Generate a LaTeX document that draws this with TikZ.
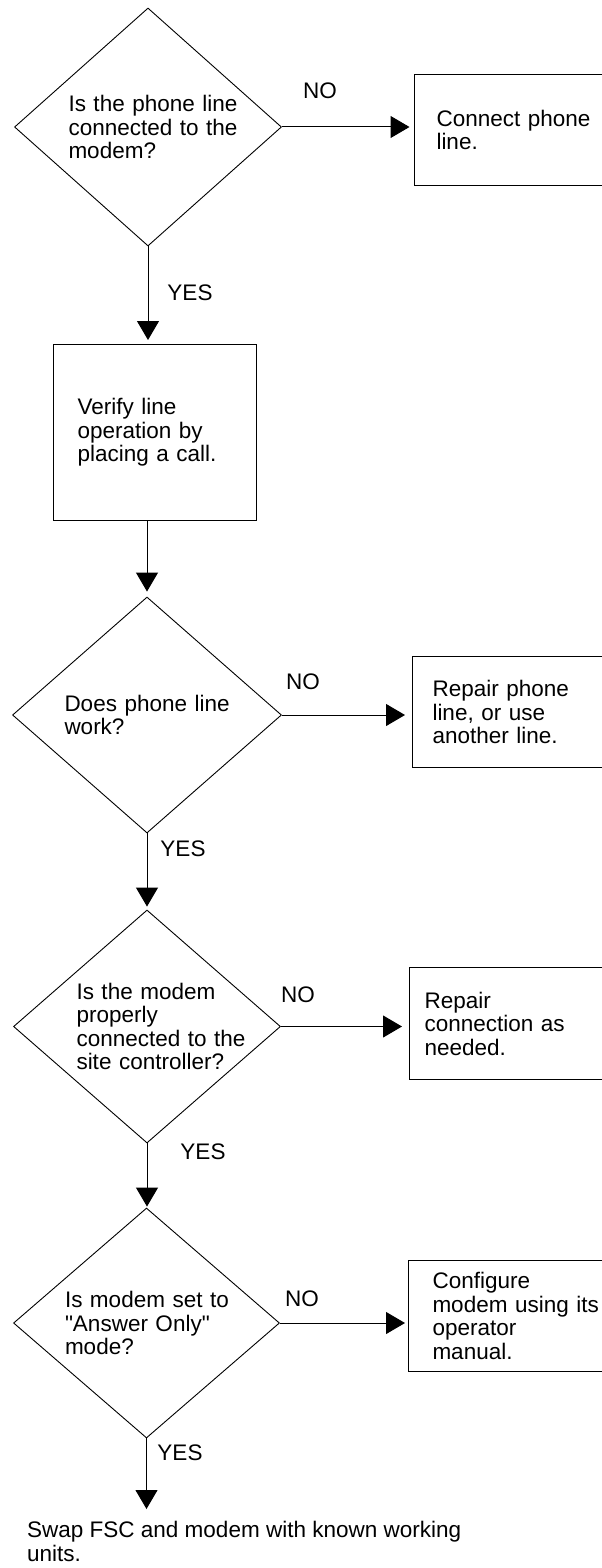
\documentclass[tikz,border=0pt]{standalone}
\usepackage{fontspec}
\setmainfont{Liberation Sans}
\usetikzlibrary{shapes.geometric,arrows.meta}
\begin{document}
\begin{tikzpicture}[x=1pt,y=-1pt,
  every node/.style={font=\fontsize{22.5}{23.5}\selectfont, text=black},
  dec/.style={draw, line width=0.9pt, shape=diamond, inner sep=0pt, align=left},
  act/.style={draw, line width=1pt, rectangle, anchor=north west, inner ysep=0pt, align=left},
  lbl/.style={inner sep=0pt},
  flow/.style={line width=1pt, -{Triangle[length=19pt,width=22pt]}}
]
\useasboundingbox (0,0) rectangle (602,1568);
\clip (0,0) rectangle (602,1568);

% decisions
\node[dec, minimum width=267pt, minimum height=238pt, text width=159pt] (d1) at (148,127)
  {\mbox{Is the phone line}\\\mbox{connected to the}\\\mbox{modem?}};
\node[dec, minimum width=269pt, minimum height=236pt, text width=165pt] (d2) at (147,715)
  {\mbox{Does phone line}\\\mbox{work?}};
\node[dec, minimum width=267pt, minimum height=233pt, text width=141pt] (d3) at (147,1026.5)
  {\mbox{Is the modem}\\\mbox{properly}\\\mbox{connected to the}\\\mbox{site controller?}};
\node[dec, minimum width=266pt, minimum height=230pt, text width=163pt] (d4) at (146.5,1323)
  {\mbox{Is modem set to}\\\mbox{\textquotedbl Answer Only\textquotedbl}\\\mbox{mode?}};

% actions
\node[act, minimum width=226pt, minimum height=111pt, inner xsep=22pt, text width=182pt] (b1) at (414,74)
  {Connect phone\\line.};
\node[act, minimum width=203pt, minimum height=176pt, inner xsep=24pt, text width=155pt] (b2) at (53,344)
  {Verify line\\operation by\\placing a call.};
\node[act, minimum width=228pt, minimum height=111pt, inner xsep=20pt, text width=188pt] (b3) at (412,656)
  {Repair phone\\line, or use\\another line.};
\node[act, minimum width=231pt, minimum height=112pt, inner xsep=15pt, text width=201pt] (b4) at (409,967)
  {Repair\\connection as\\needed.};
\node[act, minimum width=232pt, minimum height=111pt, inner xsep=24pt, text width=184pt] (b5) at (408,1260)
  {Configure\\modem using its\\operator\\manual.};

\node[lbl, anchor=north west, align=left] (swap) at (27,1521)
  {Swap FSC and modem with known working\\units.};

% labels
\node[lbl] (no1) at (320,91) {NO};
\node[lbl] (no2) at (303,682) {NO};
\node[lbl] (no3) at (298,995) {NO};
\node[lbl] (no4) at (302,1299) {NO};
\node[lbl] (yes1) at (190,293) {YES};
\node[lbl] (yes2) at (183,849) {YES};
\node[lbl] (yes3) at (203,1152) {YES};
\node[lbl] (yes4) at (180,1453) {YES};

% connectors
\draw[flow, shorten >=4.5pt] (d1.east) -- (d1.east -| b1.west);
\draw[flow, shorten >=4pt] (d1.south) -- (d1.south |- b2.north);
\draw[flow, shorten >=5pt] (d2.north |- b2.south) -- (d2.north);
\draw[flow, shorten >=7pt] (d2.east) -- (d2.east -| b3.west);
\draw[flow, shorten >=3pt] (d2.south) -- (d3.north);
\draw[flow, shorten >=7pt] (d3.east) -- (d3.east -| b4.west);
\draw[flow, shorten >=1pt] (d3.south) -- (d3.south |- d4.north);
\draw[flow, shorten >=3pt] (d4.east) -- (d4.east -| b5.west);
\draw[flow, shorten >=12pt] (d4.south) -- (d4.south |- swap.north);
\end{tikzpicture}
\end{document}
